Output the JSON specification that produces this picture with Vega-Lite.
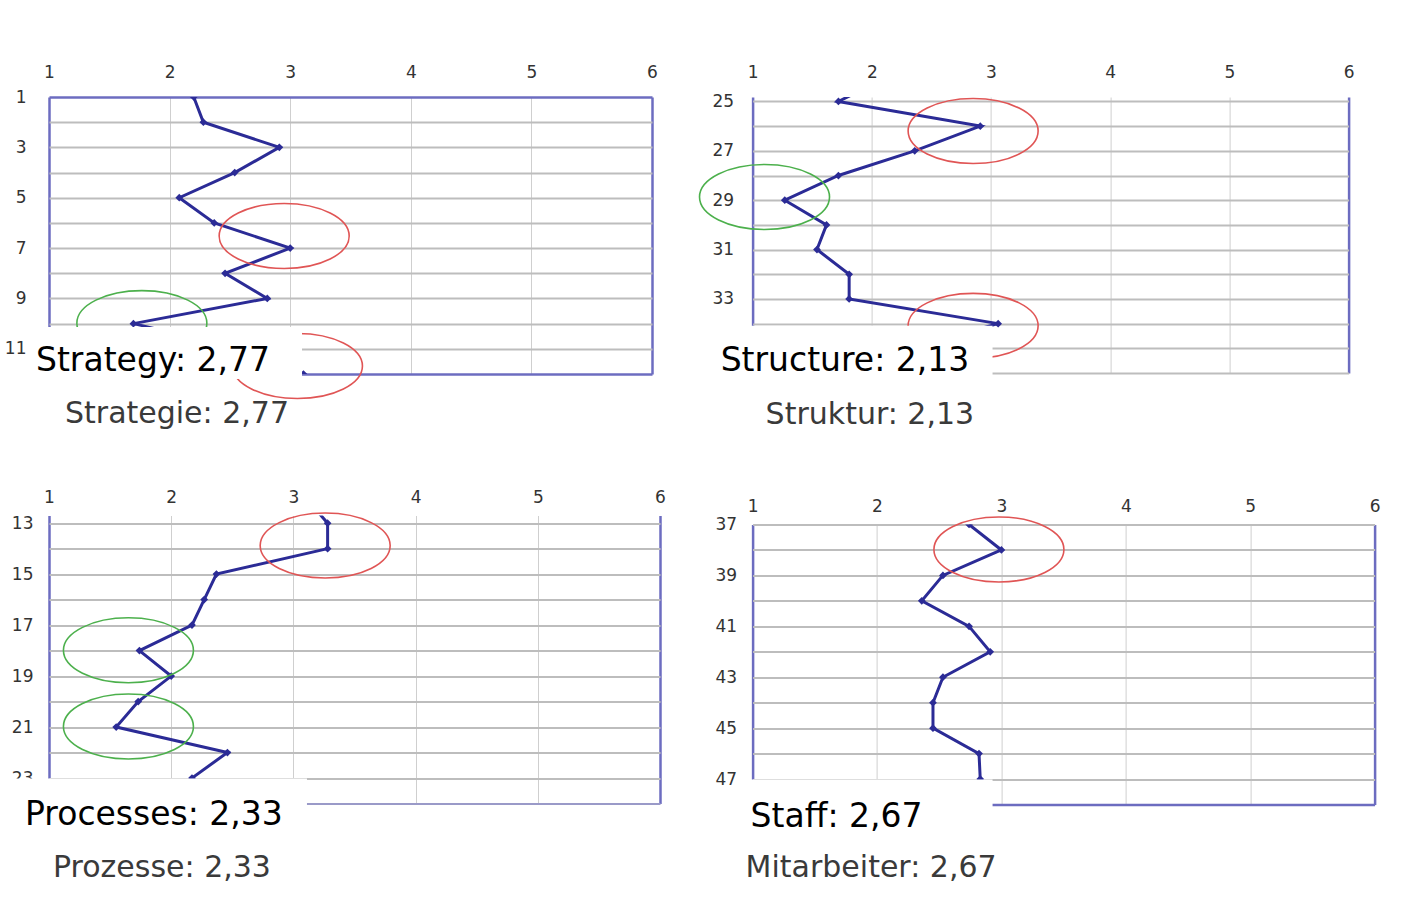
{
  "$schema": "https://vega.github.io/schema/vega-lite/v6.json",
  "background": "white",
  "padding": {"left": 4, "top": 63, "right": 10, "bottom": 10},
  "config": {
    "view": {"stroke": null},
    "axis": {"domain": false, "ticks": false, "labelFlush": false, "labelOverlap": false, "labelFont": "DejaVu Sans", "labelFontSize": 17, "labelColor": "#333333"},
    "title": {"font": "DejaVu Sans", "fontSize": 30, "fontWeight": "normal", "color": "#3a3a3a"}
  },
  "datasets": {
    "strategy": [
      {"item": 1, "score": 2.20}, {"item": 2, "score": 2.28}, {"item": 3, "score": 2.91}, {"item": 4, "score": 2.54},
      {"item": 5, "score": 2.08}, {"item": 6, "score": 2.37}, {"item": 7, "score": 3.00}, {"item": 8, "score": 2.46},
      {"item": 9, "score": 2.81}, {"item": 10, "score": 1.70}, {"item": 11, "score": 2.60}, {"item": 12, "score": 3.11}
    ],
    "structure": [
      {"item": 24, "score": 2.14}, {"item": 25, "score": 1.72}, {"item": 26, "score": 2.91}, {"item": 27, "score": 2.36},
      {"item": 28, "score": 1.72}, {"item": 29, "score": 1.27}, {"item": 30, "score": 1.62}, {"item": 31, "score": 1.54},
      {"item": 32, "score": 1.81}, {"item": 33, "score": 1.81}, {"item": 34, "score": 3.06}, {"item": 35, "score": 2.30}
    ],
    "processes": [
      {"item": 12, "score": 3.10}, {"item": 13, "score": 3.28}, {"item": 14, "score": 3.28}, {"item": 15, "score": 2.37},
      {"item": 16, "score": 2.27}, {"item": 17, "score": 2.17}, {"item": 18, "score": 1.74}, {"item": 19, "score": 2.00},
      {"item": 20, "score": 1.73}, {"item": 21, "score": 1.55}, {"item": 22, "score": 2.46}, {"item": 23, "score": 2.17},
      {"item": 24, "score": 2.00}
    ],
    "staff": [
      {"item": 37, "score": 2.74}, {"item": 38, "score": 3.00}, {"item": 39, "score": 2.53}, {"item": 40, "score": 2.36},
      {"item": 41, "score": 2.74}, {"item": 42, "score": 2.91}, {"item": 43, "score": 2.53}, {"item": 44, "score": 2.45},
      {"item": 45, "score": 2.45}, {"item": 46, "score": 2.82}, {"item": 47, "score": 2.83}, {"item": 48, "score": 2.60}
    ],
    "strategy_marks": [
      {"score": 2.95, "item": 6.52, "kind": "high"}, {"score": 1.77, "item": 9.98, "kind": "low"}, {"score": 3.06, "item": 11.68, "kind": "high"}
    ],
    "structure_marks": [
      {"score": 2.85, "item": 26.2, "kind": "high"}, {"score": 1.10, "item": 28.87, "kind": "low"}, {"score": 2.85, "item": 34.09, "kind": "high"}
    ],
    "processes_marks": [
      {"score": 3.26, "item": 13.88, "kind": "high"}, {"score": 1.65, "item": 17.99, "kind": "low"}, {"score": 1.65, "item": 20.98, "kind": "low"}
    ],
    "staff_marks": [
      {"score": 2.98, "item": 37.98, "kind": "high"}
    ],
    "strategy_box": [{"score": 0.867, "score2": 3.098, "item": 10.13, "item2": 12.2}],
    "structure_box": [{"score": 0.64, "score2": 3.013, "item": 34.09, "item2": 36.1}],
    "processes_box": [{"score": 0.656, "score2": 3.111, "item": 23.02, "item2": 24.15}],
    "staff_box": [{"score": 0.96, "score2": 2.929, "item": 47.02, "item2": 48.15}],
    "strategy_caption": [{"label": "Strategy: 2,77", "score": 0.892, "item": 11.88}],
    "structure_caption": [{"label": "Structure: 2,13", "score": 0.732, "item": 35.92}],
    "processes_caption": [{"label": "Processes: 2,33", "score": 0.804, "item": 24.86}],
    "staff_caption": [{"label": "Staff: 2,67", "score": 0.984, "item": 48.87}]
  },
  "spacing": 29.6,
  "hconcat": [
    {
      "spacing": 57.5,
      "vconcat": [
        {
          "width": 603, "height": 277,
          "title": {"text": "Strategie: 2,77", "orient": "bottom", "anchor": "start", "frame": "group", "offset": -2.5, "dx": 16},
          "encoding": {
            "x": {"field": "score", "type": "quantitative", "scale": {"domain": [1, 6], "nice": false, "zero": false},
              "axis": {"title": null, "orient": "top", "values": [1, 2, 3, 4, 5, 6], "labelPadding": 16, "tickSize": 0, "zindex": 0,
                "gridColor": {"condition": {"test": "datum.value === 1 || datum.value === 6", "value": "#6c6cc0"}, "value": "#cfcfcf"},
                "gridWidth": {"condition": {"test": "datum.value === 1 || datum.value === 6", "value": 2.5}, "value": 1}}},
            "y": {"field": "item", "type": "quantitative", "scale": {"domain": [1, 12], "reverse": true, "nice": false, "zero": false},
              "axis": {"title": null, "values": [1, 2, 3, 4, 5, 6, 7, 8, 9, 10, 11, 12], "labelExpr": "datum.value % 2 === 1 ? datum.label : ''", "labelPadding": 23, "tickSize": 0, "zindex": 0,
                "gridColor": {"condition": {"test": "datum.value === 1 || datum.value === 12", "value": "#6c6cc0"}, "value": "#bdbdbd"},
                "gridWidth": {"condition": {"test": "datum.value === 1 || datum.value === 12", "value": 2.5}, "value": 2}}}
          },
          "layer": [
            {"data": {"name": "strategy"}, "mark": {"type": "line", "color": "#2b2b96", "strokeWidth": 3, "clip": true},
              "encoding": {"order": {"field": "item", "type": "quantitative"}}},
            {"data": {"name": "strategy"}, "mark": {"type": "point", "shape": "diamond", "filled": true, "size": 60, "color": "#2b2b96", "opacity": 1, "clip": true}},
            {"data": {"name": "strategy_marks"},
              "mark": {"type": "point", "shape": "M -1 0 C -1 -0.276 -0.552 -0.5 0 -0.5 C 0.552 -0.5 1 -0.276 1 0 C 1 0.276 0.552 0.5 0 0.5 C -0.552 0.5 -1 0.276 -1 0 Z", "size": 16900, "filled": false, "strokeWidth": 1.6, "opacity": 1},
              "encoding": {"color": {"field": "kind", "type": "nominal", "scale": {"domain": ["high", "low"], "range": ["#e05555", "#4cb04c"]}, "legend": null}}},
            {"data": {"name": "strategy_box"}, "mark": {"type": "rect", "color": "white"},
              "encoding": {"x2": {"field": "score2"}, "y2": {"field": "item2"}}},
            {"data": {"name": "strategy_caption"}, "mark": {"type": "text", "align": "left", "baseline": "alphabetic", "font": "DejaVu Sans", "fontSize": 33, "color": "#000000"},
              "encoding": {"text": {"field": "label"}}}
          ]
        },
        {
          "width": 611, "height": 288,
          "title": {"text": "Prozesse: 2,33", "orient": "bottom", "anchor": "start", "frame": "group", "offset": 20.5, "dx": 4},
          "encoding": {
            "x": {"field": "score", "type": "quantitative", "scale": {"domain": [1, 6], "nice": false, "zero": false},
              "axis": {"title": null, "orient": "top", "values": [1, 2, 3, 4, 5, 6], "labelPadding": 9.5, "tickSize": 0, "zindex": 0,
                "gridColor": {"condition": {"test": "datum.value === 1 || datum.value === 6", "value": "#6c6cc0"}, "value": "#cfcfcf"},
                "gridWidth": {"condition": {"test": "datum.value === 1 || datum.value === 6", "value": 2.5}, "value": 1}}},
            "y": {"field": "item", "type": "quantitative", "scale": {"domain": [12.7, 24], "reverse": true, "nice": false, "zero": false},
              "axis": {"title": null, "values": [13, 14, 15, 16, 17, 18, 19, 20, 21, 22, 23, 24], "labelExpr": "datum.value % 2 === 1 ? datum.label : ''", "labelPadding": 16, "tickSize": 0, "zindex": 0,
                "gridColor": {"condition": {"test": "datum.value === 24", "value": "#9a9ac8"}, "value": "#bdbdbd"},
                "gridWidth": 2}}
          },
          "layer": [
            {"data": {"name": "processes"}, "mark": {"type": "line", "color": "#2b2b96", "strokeWidth": 3, "clip": true},
              "encoding": {"order": {"field": "item", "type": "quantitative"}}},
            {"data": {"name": "processes"}, "mark": {"type": "point", "shape": "diamond", "filled": true, "size": 60, "color": "#2b2b96", "opacity": 1, "clip": true}},
            {"data": {"name": "processes_marks"},
              "mark": {"type": "point", "shape": "M -1 0 C -1 -0.276 -0.552 -0.5 0 -0.5 C 0.552 -0.5 1 -0.276 1 0 C 1 0.276 0.552 0.5 0 0.5 C -0.552 0.5 -1 0.276 -1 0 Z", "size": 16900, "filled": false, "strokeWidth": 1.6, "opacity": 1},
              "encoding": {"color": {"field": "kind", "type": "nominal", "scale": {"domain": ["high", "low"], "range": ["#e05555", "#4cb04c"]}, "legend": null}}},
            {"data": {"name": "processes_box"}, "mark": {"type": "rect", "color": "white"},
              "encoding": {"x2": {"field": "score2"}, "y2": {"field": "item2"}}},
            {"data": {"name": "processes_caption"}, "mark": {"type": "text", "align": "left", "baseline": "alphabetic", "font": "DejaVu Sans", "fontSize": 33, "color": "#000000"},
              "encoding": {"text": {"field": "label"}}}
          ]
        }
      ]
    },
    {
      "spacing": 66.5,
      "vconcat": [
        {
          "width": 596, "height": 276,
          "title": {"text": "Struktur: 2,13", "orient": "bottom", "anchor": "start", "frame": "group", "offset": 19, "dx": 13},
          "encoding": {
            "x": {"field": "score", "type": "quantitative", "scale": {"domain": [1, 6], "nice": false, "zero": false},
              "axis": {"title": null, "orient": "top", "values": [1, 2, 3, 4, 5, 6], "labelPadding": 16, "tickSize": 0, "zindex": 0,
                "gridColor": {"condition": {"test": "datum.value === 1 || datum.value === 6", "value": "#6c6cc0"}, "value": "#cfcfcf"},
                "gridWidth": {"condition": {"test": "datum.value === 1 || datum.value === 6", "value": 2.5}, "value": 1}}},
            "y": {"field": "item", "type": "quantitative", "scale": {"domain": [24.82, 36], "reverse": true, "nice": false, "zero": false},
              "axis": {"title": null, "values": [25, 26, 27, 28, 29, 30, 31, 32, 33, 34, 35, 36], "labelExpr": "datum.value % 2 === 1 && datum.value < 35 ? datum.label : ''", "labelPadding": 19, "tickSize": 0, "zindex": 0,
                "gridColor": "#bdbdbd", "gridWidth": 2}}
          },
          "layer": [
            {"data": {"name": "structure"}, "mark": {"type": "line", "color": "#2b2b96", "strokeWidth": 3, "clip": true},
              "encoding": {"order": {"field": "item", "type": "quantitative"}}},
            {"data": {"name": "structure"}, "mark": {"type": "point", "shape": "diamond", "filled": true, "size": 60, "color": "#2b2b96", "opacity": 1, "clip": true}},
            {"data": {"name": "structure_marks"},
              "mark": {"type": "point", "shape": "M -1 0 C -1 -0.276 -0.552 -0.5 0 -0.5 C 0.552 -0.5 1 -0.276 1 0 C 1 0.276 0.552 0.5 0 0.5 C -0.552 0.5 -1 0.276 -1 0 Z", "size": 16900, "filled": false, "strokeWidth": 1.6, "opacity": 1},
              "encoding": {"color": {"field": "kind", "type": "nominal", "scale": {"domain": ["high", "low"], "range": ["#e05555", "#4cb04c"]}, "legend": null}}},
            {"data": {"name": "structure_box"}, "mark": {"type": "rect", "color": "white"},
              "encoding": {"x2": {"field": "score2"}, "y2": {"field": "item2"}}},
            {"data": {"name": "structure_caption"}, "mark": {"type": "text", "align": "left", "baseline": "alphabetic", "font": "DejaVu Sans", "fontSize": 33, "color": "#000000"},
              "encoding": {"text": {"field": "label"}}}
          ]
        },
        {
          "width": 622, "height": 280,
          "title": {"text": "Mitarbeiter: 2,67", "orient": "bottom", "anchor": "start", "frame": "group", "offset": 19, "dx": -7},
          "encoding": {
            "x": {"field": "score", "type": "quantitative", "scale": {"domain": [1, 6], "nice": false, "zero": false},
              "axis": {"title": null, "orient": "top", "values": [1, 2, 3, 4, 5, 6], "labelPadding": 9.5, "tickSize": 0, "zindex": 0,
                "gridColor": {"condition": {"test": "datum.value === 1 || datum.value === 6", "value": "#6c6cc0"}, "value": "#cfcfcf"},
                "gridWidth": {"condition": {"test": "datum.value === 1 || datum.value === 6", "value": 2.5}, "value": 1}}},
            "y": {"field": "item", "type": "quantitative", "scale": {"domain": [37, 48], "reverse": true, "nice": false, "zero": false},
              "axis": {"title": null, "values": [37, 38, 39, 40, 41, 42, 43, 44, 45, 46, 47, 48], "labelExpr": "datum.value % 2 === 1 ? datum.label : ''", "labelPadding": 16, "tickSize": 0, "zindex": 0,
                "gridColor": {"condition": {"test": "datum.value === 48", "value": "#6c6cc0"}, "value": "#bdbdbd"},
                "gridWidth": {"condition": {"test": "datum.value === 48", "value": 2.5}, "value": 2}}}
          },
          "layer": [
            {"data": {"name": "staff"}, "mark": {"type": "line", "color": "#2b2b96", "strokeWidth": 3, "clip": true},
              "encoding": {"order": {"field": "item", "type": "quantitative"}}},
            {"data": {"name": "staff"}, "mark": {"type": "point", "shape": "diamond", "filled": true, "size": 60, "color": "#2b2b96", "opacity": 1, "clip": true}},
            {"data": {"name": "staff_marks"},
              "mark": {"type": "point", "shape": "M -1 0 C -1 -0.276 -0.552 -0.5 0 -0.5 C 0.552 -0.5 1 -0.276 1 0 C 1 0.276 0.552 0.5 0 0.5 C -0.552 0.5 -1 0.276 -1 0 Z", "size": 16900, "filled": false, "strokeWidth": 1.6, "opacity": 1},
              "encoding": {"color": {"field": "kind", "type": "nominal", "scale": {"domain": ["high", "low"], "range": ["#e05555", "#4cb04c"]}, "legend": null}}},
            {"data": {"name": "staff_box"}, "mark": {"type": "rect", "color": "white"},
              "encoding": {"x2": {"field": "score2"}, "y2": {"field": "item2"}}},
            {"data": {"name": "staff_caption"}, "mark": {"type": "text", "align": "left", "baseline": "alphabetic", "font": "DejaVu Sans", "fontSize": 33, "color": "#000000"},
              "encoding": {"text": {"field": "label"}}}
          ]
        }
      ]
    }
  ]
}
